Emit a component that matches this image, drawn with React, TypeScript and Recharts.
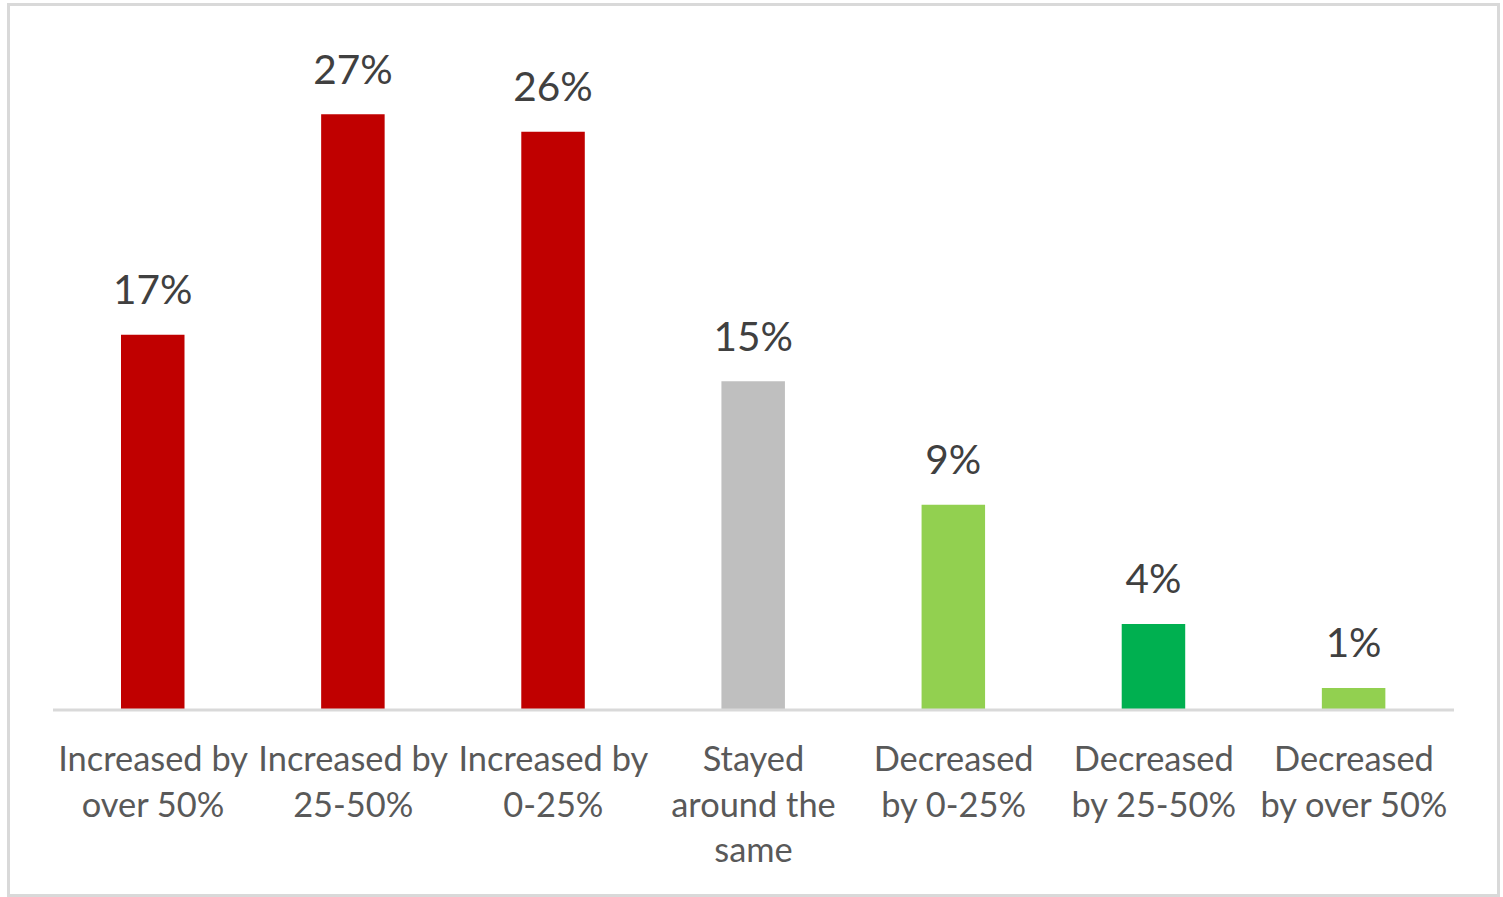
import React from "react";
import { BarChart, Bar, XAxis, YAxis, Cell, LabelList } from "recharts";

const categories = [
  "Increased by|over 50%",
  "Increased by|25-50%",
  "Increased by|0-25%",
  "Stayed|around the|same",
  "Decreased|by 0-25%",
  "Decreased|by 25-50%",
  "Decreased|by over 50%",
];
const values = [17.0, 27.0, 26.2, 14.9, 9.3, 3.9, 1.0];
const colors = ["#C00000", "#C00000", "#C00000", "#BFBFBF", "#92D050", "#00B050", "#92D050"];

const data = categories.map((c, i) => ({ name: c, value: values[i] }));

const FONT = "Lato, 'Open Sans', sans-serif";

const Tick = (props: any) => {
  const { x, y, payload } = props;
  const lines = String(payload.value).split("|");
  return (
    <text x={x} y={y} textAnchor="middle" fill="#595959" fontFamily={FONT} fontSize={34.4}>
      {lines.map((l, i) => (
        <tspan key={i} x={x} y={y + 61 + i * 45.5}>
          {l}
        </tspan>
      ))}
    </text>
  );
};

const Label = (props: any) => {
  const { x, y, width, value } = props;
  return (
    <text x={x + width / 2} y={y - 30.5} textAnchor="middle" fill="#404040" fontFamily={FONT} fontSize={40.5}>
      {Math.round(value) + "%"}
    </text>
  );
};

export default function App() {
  return (
    <div style={{ position: "absolute", left: 0, top: 0, width: 1503, height: 897, background: "#fff" }}>
      <div
        style={{
          position: "absolute",
          left: 7,
          top: 3,
          width: 1493,
          height: 894,
          boxSizing: "border-box",
          border: "3px solid #D9D9D9",
        }}
      />
      <div style={{ position: "absolute", left: 0, top: 0 }}>
        <BarChart
          width={1503}
          height={897}
          data={data}
          margin={{ top: 48, right: 49, bottom: 37, left: 53 }}
          barCategoryGap={0}
        >
          <XAxis
            dataKey="name"
            axisLine={{ stroke: "#D9D9D9", strokeWidth: 3 }}
            tickLine={false}
            tickSize={0}
            tickMargin={0}
            height={150}
            interval={0}
            tick={<Tick />}
          />
          <YAxis hide domain={[0, 30]} />
          <Bar dataKey="value" barSize={63.5} isAnimationActive={false}>
            {data.map((d, i) => (
              <Cell key={i} fill={colors[i]} />
            ))}
            <LabelList dataKey="value" content={<Label />} />
          </Bar>
        </BarChart>
      </div>
    </div>
  );
}
